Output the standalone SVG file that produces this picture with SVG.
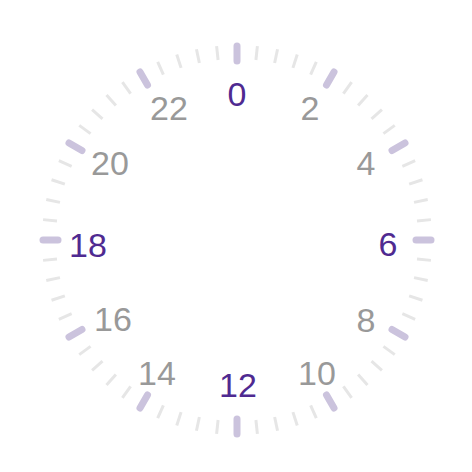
<svg xmlns="http://www.w3.org/2000/svg" xmlns:xlink="http://www.w3.org/1999/xlink" width="472" height="472" viewBox="0 0 472 472">
<style>
.minor{stroke:#e6e6e6;stroke-width:3;stroke-linecap:butt}
.major{stroke:#cbc3dd;stroke-width:7;stroke-linecap:round}
text{font-family:"Liberation Sans",Arial,sans-serif;font-size:34px;text-anchor:middle;dominant-baseline:central}
.g{fill:#999999}
.p{fill:#4f2a91}
</style>
<defs>
<line id="mn" class="minor" x1="0" y1="-195" x2="0" y2="-181"/>
<line id="mj" class="major" x1="0" y1="-194" x2="0" y2="-179"/>
</defs>
<rect width="472" height="472" fill="#ffffff"/>
<g id="ticks" transform="translate(237,240)">
<use xlink:href="#mj" transform="rotate(0)"/>
<use xlink:href="#mn" transform="rotate(6)"/><use xlink:href="#mn" transform="rotate(12)"/><use xlink:href="#mn" transform="rotate(18)"/><use xlink:href="#mn" transform="rotate(24)"/>
<use xlink:href="#mj" transform="rotate(30)"/>
<use xlink:href="#mn" transform="rotate(36)"/><use xlink:href="#mn" transform="rotate(42)"/><use xlink:href="#mn" transform="rotate(48)"/><use xlink:href="#mn" transform="rotate(54)"/>
<use xlink:href="#mj" transform="rotate(60)"/>
<use xlink:href="#mn" transform="rotate(66)"/><use xlink:href="#mn" transform="rotate(72)"/><use xlink:href="#mn" transform="rotate(78)"/><use xlink:href="#mn" transform="rotate(84)"/>
<use xlink:href="#mj" transform="rotate(90)"/>
<use xlink:href="#mn" transform="rotate(96)"/><use xlink:href="#mn" transform="rotate(102)"/><use xlink:href="#mn" transform="rotate(108)"/><use xlink:href="#mn" transform="rotate(114)"/>
<use xlink:href="#mj" transform="rotate(120)"/>
<use xlink:href="#mn" transform="rotate(126)"/><use xlink:href="#mn" transform="rotate(132)"/><use xlink:href="#mn" transform="rotate(138)"/><use xlink:href="#mn" transform="rotate(144)"/>
<use xlink:href="#mj" transform="rotate(150)"/>
<use xlink:href="#mn" transform="rotate(156)"/><use xlink:href="#mn" transform="rotate(162)"/><use xlink:href="#mn" transform="rotate(168)"/><use xlink:href="#mn" transform="rotate(174)"/>
<use xlink:href="#mj" transform="rotate(180)"/>
<use xlink:href="#mn" transform="rotate(186)"/><use xlink:href="#mn" transform="rotate(192)"/><use xlink:href="#mn" transform="rotate(198)"/><use xlink:href="#mn" transform="rotate(204)"/>
<use xlink:href="#mj" transform="rotate(210)"/>
<use xlink:href="#mn" transform="rotate(216)"/><use xlink:href="#mn" transform="rotate(222)"/><use xlink:href="#mn" transform="rotate(228)"/><use xlink:href="#mn" transform="rotate(234)"/>
<use xlink:href="#mj" transform="rotate(240)"/>
<use xlink:href="#mn" transform="rotate(246)"/><use xlink:href="#mn" transform="rotate(252)"/><use xlink:href="#mn" transform="rotate(258)"/><use xlink:href="#mn" transform="rotate(264)"/>
<use xlink:href="#mj" transform="rotate(270)"/>
<use xlink:href="#mn" transform="rotate(276)"/><use xlink:href="#mn" transform="rotate(282)"/><use xlink:href="#mn" transform="rotate(288)"/><use xlink:href="#mn" transform="rotate(294)"/>
<use xlink:href="#mj" transform="rotate(300)"/>
<use xlink:href="#mn" transform="rotate(306)"/><use xlink:href="#mn" transform="rotate(312)"/><use xlink:href="#mn" transform="rotate(318)"/><use xlink:href="#mn" transform="rotate(324)"/>
<use xlink:href="#mj" transform="rotate(330)"/>
<use xlink:href="#mn" transform="rotate(336)"/><use xlink:href="#mn" transform="rotate(342)"/><use xlink:href="#mn" transform="rotate(348)"/><use xlink:href="#mn" transform="rotate(354)"/>
</g>
<g id="labels">
<text class="p" x="237" y="94">0</text>
<text class="g" x="310" y="108">2</text>
<text class="g" x="366" y="163">4</text>
<text class="p" x="388" y="244">6</text>
<text class="g" x="366" y="320">8</text>
<text class="g" x="317" y="373">10</text>
<text class="p" x="238" y="385">12</text>
<text class="g" x="157" y="373">14</text>
<text class="g" x="113" y="319">16</text>
<text class="p" x="88" y="245">18</text>
<text class="g" x="110" y="163">20</text>
<text class="g" x="169" y="108">22</text>
</g>
</svg>
